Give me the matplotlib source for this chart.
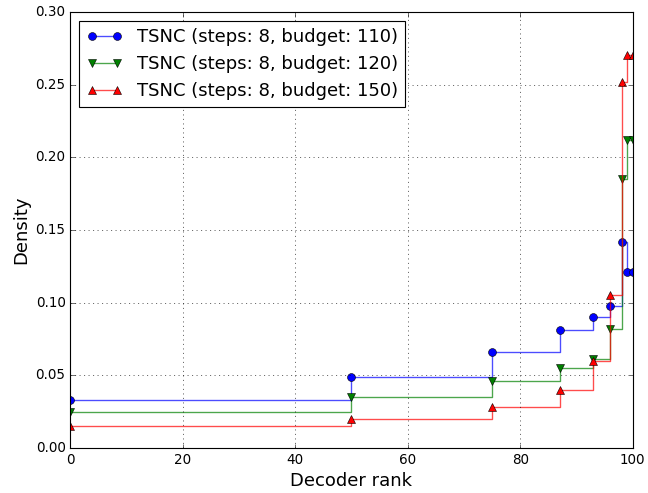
import matplotlib
matplotlib.use("Agg")
import matplotlib.pyplot as plt

# decoder ranks where the density changes
ranks = [0, 50, 75, 87, 93, 96, 98, 99, 100]

density_110 = [0.033, 0.049, 0.066, 0.081, 0.090, 0.098, 0.142, 0.121, 0.121]
density_120 = [0.025, 0.035, 0.046, 0.055, 0.061, 0.082, 0.185, 0.212, 0.212]
density_150 = [0.015, 0.020, 0.028, 0.040, 0.060, 0.105, 0.252, 0.270, 0.270]

labels = [
    "TSNC (steps: 8, budget: 110)",
    "TSNC (steps: 8, budget: 120)",
    "TSNC (steps: 8, budget: 150)",
]

plt.style.use("classic")
plt.rcParams["font.family"] = ["DejaVu Sans"]

fig = plt.figure(figsize=(649 / 81, 493 / 81), dpi=81, facecolor="white")
ax = fig.add_subplot(111)
fig.subplots_adjust(left=0.108, right=0.975, top=0.976, bottom=0.091)

series = [
    (density_110, (0, 0, 1, 0.7), "b", "o"),
    (density_120, (0, 0.5, 0, 0.7), "g", "v"),
    (density_150, (1, 0, 0, 0.7), "r", "^"),
]
for (vals, line_col, mark_col, mk), lab in zip(series, labels):
    ax.plot(ranks, vals, drawstyle="steps-post", color=line_col, lw=1.2,
            marker=mk, markersize=7, markerfacecolor=mark_col,
            markeredgecolor="k", label=lab)

ax.set_xlim(0, 100)
ax.set_ylim(0, 0.30)
ax.set_xticks([0, 20, 40, 60, 80, 100])
ax.set_yticks([0.0, 0.05, 0.10, 0.15, 0.20, 0.25, 0.30])
ax.grid(True)
ax.set_xlabel("Decoder rank", fontsize=16)
ax.set_ylabel("Density", fontsize=16)
ax.legend(loc="upper left", fontsize=16, numpoints=2)

plt.savefig("out.png", dpi=81, facecolor="white")
